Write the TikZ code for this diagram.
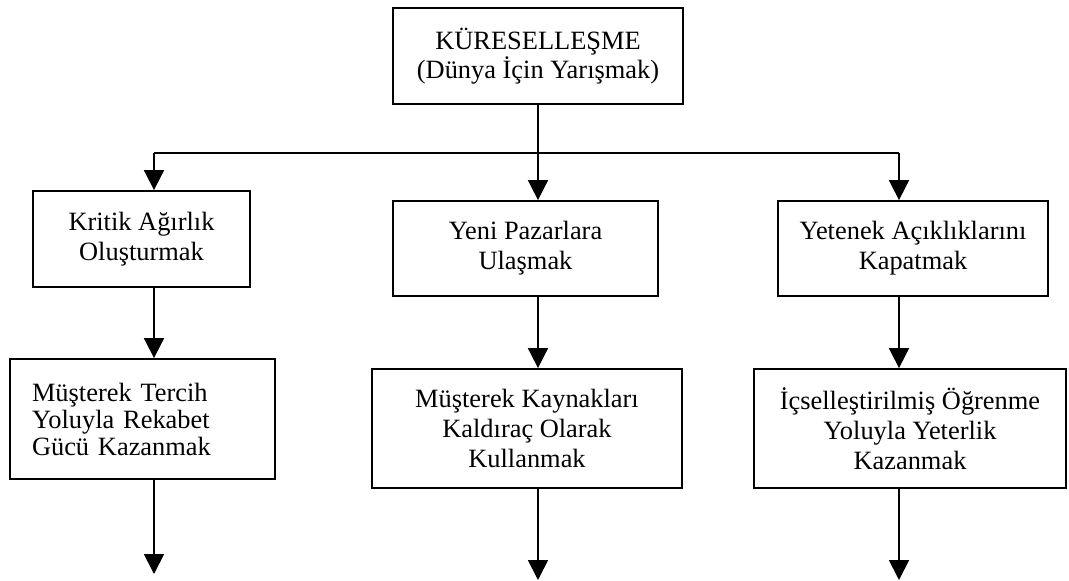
\documentclass[tikz,border=0pt]{standalone}
\usepackage{fontspec}
\setmainfont{Liberation Serif}
\usetikzlibrary{arrows.meta}
\begin{document}
\begin{tikzpicture}[x=1pt,y=-1pt,
  box/.style={draw, line width=1.8pt, inner sep=0pt, align=center,
    font=\fontsize{26.4}{30}\selectfont},
  arr/.style={line width=1.8pt, -{Triangle[width=20pt,length=20pt]}},
  link/.style={line width=1.8pt}]
\useasboundingbox (0,0) rectangle (1069,581);

% root
\node[box, minimum width=290pt, minimum height=96pt,
  font=\fontsize{26.4}{26}\selectfont] (root) at (538,56)
  {KÜRESELLEŞME\\(Dünya İçin Yarışmak)};

% first level
\node[box, minimum width=217pt, minimum height=96pt] (kritik) at (141.5,239)
  {Kritik Ağırlık\\Oluşturmak};
\node[box, minimum width=265pt, minimum height=95pt] (yeni) at (525.5,248.5)
  {Yeni Pazarlara\\Ulaşmak};
\node[box, minimum width=270pt, minimum height=95pt] (yetenek) at (913,248.5)
  {Yetenek Açıklıklarını\\Kapatmak};

% second level
\node[box, align=left, text width=221pt, inner xsep=22pt, minimum height=120pt,
  font=\fontsize{26.4}{27}\selectfont] (tercih) at (142.5,419)
  {Müşterek Tercih\\Yoluyla Rekabet\\Gücü Kazanmak};
\node[box, minimum width=310pt, minimum height=119pt] (kaynak) at (527,428.5)
  {Müşterek Kaynakları\\Kaldıraç Olarak\\Kullanmak};
\node[box, minimum width=312pt, minimum height=119pt] (ogrenme) at (910,428.5)
  {İçselleştirilmiş Öğrenme\\Yoluyla Yeterlik\\Kazanmak};

% branching bus
\coordinate (jl) at (154,153);
\coordinate (jm) at (538,153);
\coordinate (jr) at (899,153);
\draw[link] (root.south) -- (jm);
\draw[link] (jl) -- (jr);
\draw[arr] (jl) -- (jl |- kritik.north);
\draw[arr] (jm) -- (jm |- yeni.north);
\draw[arr] (jr) -- (jr |- yetenek.north);

% second level links
\draw[arr] (jl |- kritik.south) -- (jl |- tercih.north);
\draw[arr] (jm |- yeni.south) -- (jm |- kaynak.north);
\draw[arr] (jr |- yetenek.south) -- (jr |- ogrenme.north);

% outgoing arrows
\coordinate (el) at (154,574);
\coordinate (em) at (538,580);
\coordinate (er) at (899,580);
\draw[arr] (jl |- tercih.south) -- (el);
\draw[arr] (jm |- kaynak.south) -- (em);
\draw[arr] (jr |- ogrenme.south) -- (er);
\end{tikzpicture}
\end{document}
